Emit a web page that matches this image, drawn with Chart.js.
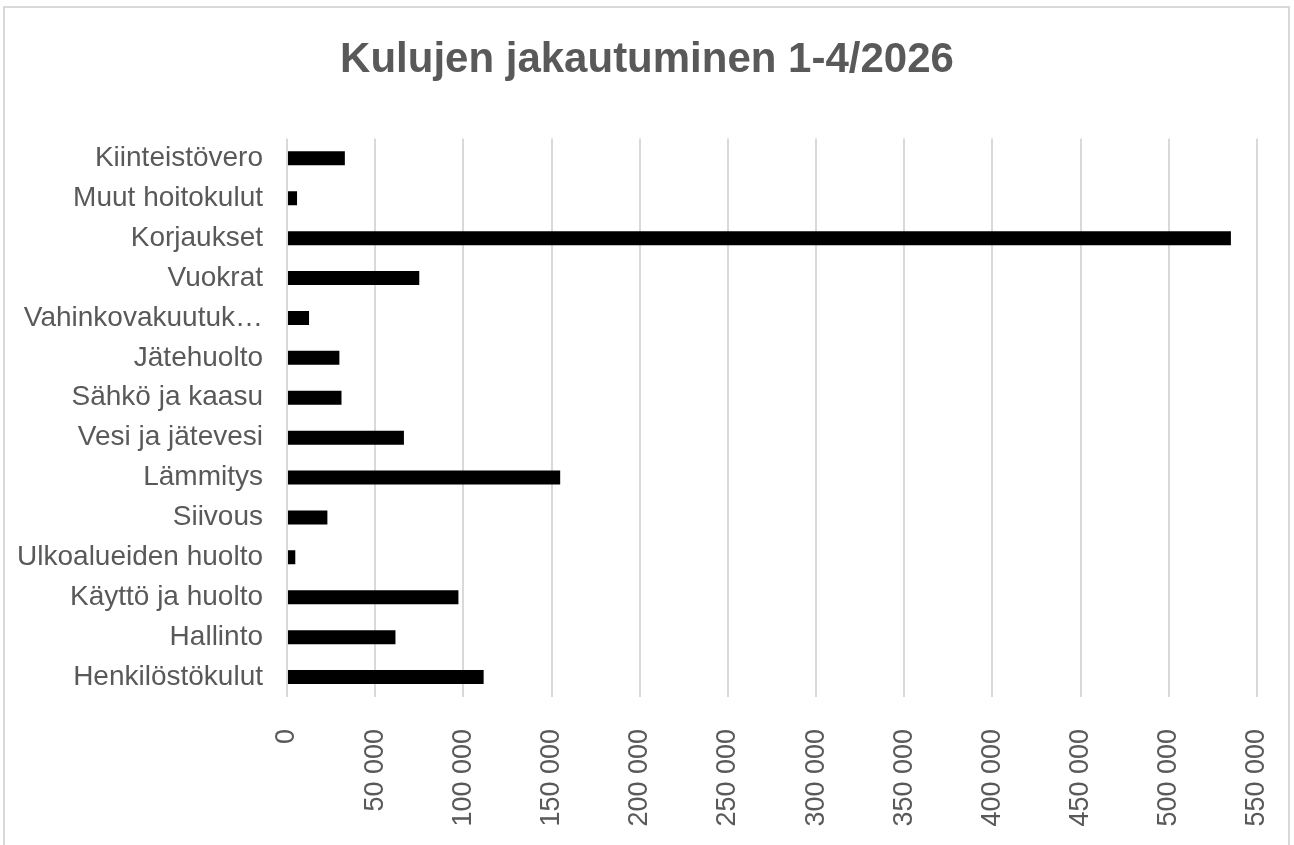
<!DOCTYPE html>
<html>
<head>
<meta charset="utf-8">
<script src="https://cdn.jsdelivr.net/npm/chart.js@4/dist/chart.umd.min.js"></script>
<style>
  html, body { margin: 0; padding: 0; background: #fff; }
  #wrap { position: relative; width: 1294px; height: 845px; overflow: hidden; }
  #frame { position: absolute; left: 3px; top: 6px; width: 1287px; height: 860px; border: 2px solid #d9d9d9; box-sizing: border-box; pointer-events: none; }
  canvas { position: absolute; left: 0; top: 0; }
</style>
</head>
<body>
<div id="wrap">
  <canvas id="c" width="1294" height="845"></canvas>
  <div id="frame"></div>
</div>
<script>
const title = 'Kulujen jakautuminen 1-4/2026'
const categories = [
  'Kiinteistövero', 'Muut hoitokulut', 'Korjaukset', 'Vuokrat', 'Vahinkovakuutuk…',
  'Jätehuolto', 'Sähkö ja kaasu', 'Vesi ja jätevesi', 'Lämmitys', 'Siivous',
  'Ulkoalueiden huolto', 'Käyttö ja huolto', 'Hallinto', 'Henkilöstökulut'
]
const values = [32800, 5700, 535200, 75000, 12500, 29700, 30900, 66300, 154900, 22900, 4700, 97200, 61500, 111500]
const axisMin = 0
const axisMax = 550000
const axisStep = 50000

const grey = '#595959'
const font = 'Liberation Sans, Arial, sans-serif'

function fmt(v) { return String(v).replace(/\B(?=(\d{3})+(?!\d))/g, ' ') }

new Chart(document.getElementById('c'), {
  type: 'bar',
  data: {
    labels: categories,
    datasets: [{ data: values, backgroundColor: '#000', borderWidth: 0, barPercentage: 0.35, categoryPercentage: 1 }]
  },
  options: {
    indexAxis: 'y',
    responsive: false,
    animation: false,
    layout: { padding: { left: 0, right: 0, top: 0, bottom: 0 } },
    plugins: {
      legend: { display: false },
      tooltip: { enabled: false },
      title: {
        display: true, text: title, color: grey,
        font: { family: font, size: 42, weight: 'bold', lineHeight: 1.2 },
        padding: { top: 35, bottom: 53 }
      }
    },
    scales: {
      x: {
        min: axisMin, max: axisMax,
        grid: { color: '#d9d9d9', lineWidth: 2, drawTicks: false },
        border: { display: false },
        ticks: {
          stepSize: axisStep, minRotation: 90, maxRotation: 90, padding: 32,
          color: grey, font: { family: font, size: 27 },
          callback: v => fmt(v)
        },
        afterFit: s => { s.height = 148; s.paddingRight = 37; s.paddingLeft = 0 }
      },
      y: {
        grid: { display: false },
        border: { display: false },
        ticks: { color: grey, padding: 16, font: { family: font, size: 28 }, autoSkip: false },
        afterFit: s => { s.width = 287 }
      }
    }
  }
})
</script>
</body>
</html>
